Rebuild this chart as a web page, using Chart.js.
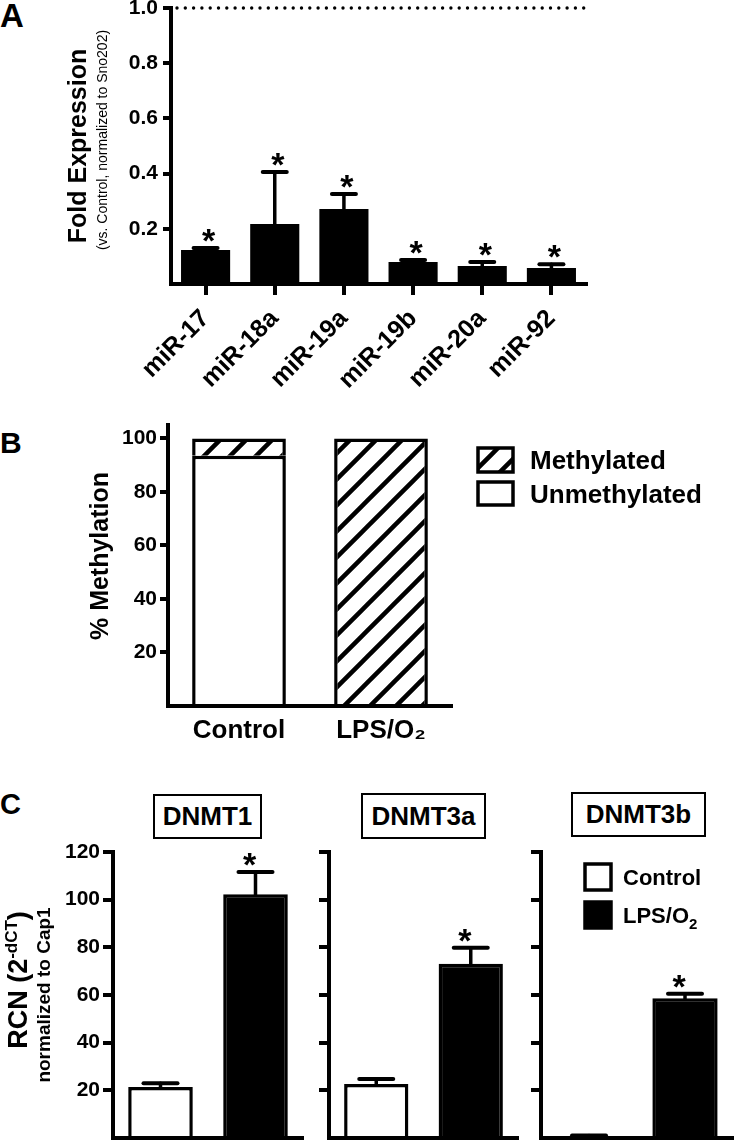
<!DOCTYPE html>
<html>
<head>
<meta charset="utf-8">
<script src="https://cdn.jsdelivr.net/npm/chart.js@4.4.1/dist/chart.umd.min.js"></script>
<style>
  body { margin: 0; background: #fff; width: 735px; height: 1141px; position: relative; overflow: hidden;
         font-family: Arial, "Liberation Sans", sans-serif; }
  canvas { position: absolute; }
  .panel { position: absolute; font-weight: bold; line-height: 1; }
  .gene { position: absolute; border: 2px solid #000; box-sizing: border-box; font-weight: bold;
          font-size: 26px; text-align: center; }
</style>
</head>
<body>
<div class="panel" style="left:0;top:-1px;font-size:33px">A</div>
<div class="panel" style="left:0;top:428px;font-size:30px">B</div>
<div class="panel" style="left:0;top:790px;font-size:29px">C</div>

<div class="gene" style="left:153px;top:794px;width:109px;height:45px;line-height:41px">DNMT1</div>
<div class="gene" style="left:361px;top:793px;width:125px;height:46px;line-height:42px">DNMT3a</div>
<div class="gene" style="left:571px;top:792px;width:135px;height:45px;line-height:41px">DNMT3b</div>

<canvas id="chartA" width="600" height="410" style="left:0;top:0"></canvas>
<canvas id="chartB" width="735" height="360" style="left:0;top:400px"></canvas>
<canvas id="chartC1" width="310" height="301" style="left:0;top:840px"></canvas>
<canvas id="chartC2" width="215" height="301" style="left:310px;top:840px"></canvas>
<canvas id="chartC3" width="210" height="301" style="left:525px;top:840px"></canvas>

<script>
// panel A - miRNA fold expression (mean + SEM)
const mirLabels = ['miR-17', 'miR-18a', 'miR-19a', 'miR-19b', 'miR-20a', 'miR-92'];
const mirMean = [0.123, 0.217, 0.272, 0.080, 0.065, 0.058];
const mirSem = [0.007, 0.189, 0.054, 0.007, 0.015, 0.014];
const controlLevel = 1.0;

// panel B - % methylation
const methGroups = ['Control', 'LPS/O\u2082'];
const methUnmethylated = [93.5, 0];
const methMethylated = [6.5, 100];

// panel C - DNMT expression
const dnmtGroups = ['Control', 'LPS/O\u2082'];
const dnmtControlMean = [21.4, 22.7, 0.8];
const dnmtControlSem = [1.6, 2.1, 0.3];
const dnmtLpsMean = [102.3, 73.1, 58.6];
const dnmtLpsSem = [9.3, 6.7, 1.9];

Chart.defaults.font.family = 'Arial, "Liberation Sans", sans-serif';
Chart.defaults.color = '#000';
Chart.defaults.animation = false;
Chart.defaults.plugins.legend.display = false;
Chart.defaults.plugins.tooltip.enabled = false;

const BOLD = 'Arial, "Liberation Sans", sans-serif';

function hatch() {
  const s = 26, c = document.createElement('canvas');
  c.width = c.height = s;
  const g = c.getContext('2d');
  g.fillStyle = '#fff';
  g.fillRect(0, 0, s, s);
  g.strokeStyle = '#000';
  g.lineWidth = 4.5;
  g.beginPath();
  g.moveTo(-3, s + 3); g.lineTo(s + 3, -3);
  g.moveTo(-3, 3); g.lineTo(3, -3);
  g.moveTo(s - 3, s + 3); g.lineTo(s + 3, s - 3);
  g.stroke();
  return g.createPattern(c, 'repeat');
}
const hatchFill = hatch();

// force scale box sizes so the plot areas line up with the figure
const fixBox = (w, h) => s => {
  if (w != null) s.width = w;
  if (h != null) s.height = h;
  s.paddingTop = 0; s.paddingBottom = 0; s.paddingLeft = 0; s.paddingRight = 0;
};

function valueAxis(max, step, width, tickLen, pad, showLabels, fmt) {
  return {
    min: 0, max: max,
    ticks: {
      stepSize: step, includeBounds: false, padding: pad, display: showLabels,
      font: { size: 21, weight: 'bold' },
      callback: v => v > 0 ? fmt(v) : ''
    },
    grid: {
      drawOnChartArea: false, tickLength: tickLen, lineWidth: 4,
      color: c => (c.tick && c.tick.value > 0) ? '#000' : 'rgba(0,0,0,0)'
    },
    border: { color: '#000', width: 4 },
    afterFit: fixBox(width, null)
  };
}

function drawParts(ctx, parts, x, y, rot, align) {
  ctx.save();
  ctx.translate(x, y);
  if (rot) ctx.rotate(rot);
  ctx.textBaseline = 'alphabetic';
  ctx.textAlign = 'left';
  let total = 0;
  parts.forEach(p => { ctx.font = p.font; p.w = ctx.measureText(p.t).width; total += p.w; });
  let cx = align === 'center' ? -total / 2 : 0;
  parts.forEach(p => {
    ctx.font = p.font;
    ctx.fillStyle = '#000';
    ctx.fillText(p.t, cx, p.dy || 0);
    cx += p.w;
  });
  ctx.restore();
}

const notes = {
  id: 'notes',
  afterDraw(chart, args, o) {
    (o.items || []).forEach(it => drawParts(chart.ctx, it.parts, it.x, it.y, it.rot, it.align));
  }
};

const errorBars = {
  id: 'errorBars',
  afterDatasetsDraw(chart, args, o) {
    if (!o.sem) return;
    const ctx = chart.ctx, y = chart.scales.y;
    const data = chart.data.datasets[0].data;
    chart.getDatasetMeta(0).data.forEach((bar, i) => {
      const top = y.getPixelForValue(data[i] + o.sem[i]);
      ctx.save();
      ctx.strokeStyle = '#000';
      ctx.lineCap = 'round';
      ctx.lineWidth = 3.5;
      ctx.beginPath();
      ctx.moveTo(bar.x, bar.y);
      ctx.lineTo(bar.x, top);
      ctx.stroke();
      ctx.lineWidth = 4;
      ctx.beginPath();
      ctx.moveTo(bar.x - o.cap / 2, top);
      ctx.lineTo(bar.x + o.cap / 2, top);
      ctx.stroke();
      if (o.stars[i]) {
        ctx.fillStyle = '#000';
        ctx.font = 'bold 34px ' + BOLD;
        ctx.textAlign = 'center';
        ctx.textBaseline = 'alphabetic';
        ctx.fillText('*', bar.x + o.starDx, top + 4);
      }
      ctx.restore();
    });
  }
};

const refLine = {
  id: 'refLine',
  afterDatasetsDraw(chart, args, o) {
    if (o.value == null) return;
    const ctx = chart.ctx, a = chart.chartArea;
    const yy = chart.scales.y.getPixelForValue(o.value);
    ctx.save();
    ctx.strokeStyle = '#000';
    ctx.lineWidth = 3.4;
    ctx.lineCap = 'round';
    ctx.setLineDash([0, 8.3]);
    ctx.beginPath();
    ctx.moveTo(a.left + 6, yy);
    ctx.lineTo(a.right + 4, yy);
    ctx.stroke();
    ctx.restore();
  }
};

const boxLegend = {
  id: 'boxLegend',
  afterDraw(chart, args, o) {
    if (!o.items) return;
    const ctx = chart.ctx;
    o.items.forEach(it => {
      ctx.save();
      ctx.fillStyle = it.fill;
      ctx.fillRect(it.x, it.y, it.w, it.h);
      ctx.strokeStyle = '#000';
      ctx.lineWidth = 3.5;
      ctx.strokeRect(it.x, it.y, it.w, it.h);
      ctx.restore();
      drawParts(ctx, it.parts, it.x + it.w + o.gap, it.y + it.h / 2 + o.base, 0, 'left');
    });
  }
};

Chart.register(notes, errorBars, refLine, boxLegend);

// ---------- A ----------
new Chart(document.getElementById('chartA'), {
  type: 'bar',
  data: {
    labels: mirLabels,
    datasets: [{ data: mirMean, backgroundColor: '#000', borderWidth: 0, barPercentage: 0.71, categoryPercentage: 1 }]
  },
  options: {
    responsive: false,
    layout: { padding: { left: 0, top: 8, right: 14, bottom: 0 } },
    scales: {
      x: {
        grid: { drawOnChartArea: false, offset: false, tickLength: 11, lineWidth: 4, color: '#000' },
        border: { color: '#000', width: 4 },
        ticks: { font: { size: 25, weight: 'bold' }, minRotation: 45, maxRotation: 45, autoSkip: false, padding: 9 },
        afterFit: fixBox(null, 126)
      },
      y: valueAxis(1.0, 0.2, 171, 8, 5, true, v => v.toFixed(1))
    },
    plugins: {
      errorBars: { sem: mirSem, stars: mirSem.map(() => true), cap: 24, starDx: 3 },
      refLine: { value: controlLevel },
      notes: {
        items: [
          { parts: [{ t: 'Fold Expression', font: 'bold 25px ' + BOLD }], x: 86, y: 146, rot: -Math.PI / 2, align: 'center' },
          { parts: [{ t: '(vs. Control, normalized to Sno202)', font: '14px ' + BOLD }], x: 107, y: 140, rot: -Math.PI / 2, align: 'center' }
        ]
      }
    }
  }
});

// ---------- B ----------
new Chart(document.getElementById('chartB'), {
  type: 'bar',
  data: {
    labels: methGroups,
    datasets: [
      { label: 'Unmethylated', data: methUnmethylated, backgroundColor: '#fff', borderColor: '#000', borderWidth: 3.5,
        borderSkipped: 'start', barPercentage: 0.66, categoryPercentage: 1 },
      { label: 'Methylated', data: methMethylated, backgroundColor: hatchFill, borderColor: '#000', borderWidth: 3.5,
        borderSkipped: 'start', barPercentage: 0.66, categoryPercentage: 1 }
    ]
  },
  options: {
    responsive: false,
    layout: { padding: { left: 0, top: 25, right: 283, bottom: 0 } },
    scales: {
      x: {
        stacked: true,
        grid: { display: false },
        border: { color: '#000', width: 4 },
        ticks: { font: { size: 26, weight: 'bold' }, padding: 1, maxRotation: 0 },
        afterFit: fixBox(null, 54)
      },
      y: Object.assign(valueAxis(105, 20, 168, 8, 3, true, v => v), { stacked: true })
    },
    plugins: {
      notes: {
        items: [
          { parts: [{ t: '% Methylation', font: 'bold 25px ' + BOLD }], x: 108, y: 156, rot: -Math.PI / 2, align: 'center' }
        ]
      },
      boxLegend: {
        gap: 17, base: 9,
        items: [
          { fill: hatchFill, x: 478, y: 48, w: 35, h: 24, parts: [{ t: 'Methylated', font: 'bold 26px ' + BOLD }] },
          { fill: '#fff', x: 478, y: 82, w: 35, h: 23, parts: [{ t: 'Unmethylated', font: 'bold 26px ' + BOLD }] }
        ]
      }
    }
  }
});

// ---------- C ----------
const cBoxes = [
  { id: 'chartC1', yWidth: 113, right: 7, labels: true },
  { id: 'chartC2', yWidth: 19, right: 7, labels: false },
  { id: 'chartC3', yWidth: 16, right: 2, labels: false }
];

cBoxes.forEach((b, i) => {
  const plugins = {
    errorBars: { sem: [dnmtControlSem[i], dnmtLpsSem[i]], stars: [false, true], cap: 34, starDx: -6 }
  };
  if (i === 0) {
    plugins.notes = {
      items: [
        { parts: [{ t: 'RCN (2', font: 'bold 27px ' + BOLD }, { t: '-dCT', font: 'bold 17px ' + BOLD, dy: -10 },
                  { t: ')', font: 'bold 27px ' + BOLD }], x: 27, y: 140, rot: -Math.PI / 2, align: 'center' },
        { parts: [{ t: 'normalized to Cap1', font: 'bold 19px ' + BOLD }], x: 50, y: 155, rot: -Math.PI / 2, align: 'center' }
      ]
    };
  }
  if (i === 2) {
    plugins.boxLegend = {
      gap: 12, base: 8,
      items: [
        { fill: '#fff', x: 60, y: 24, w: 26, h: 26, parts: [{ t: 'Control', font: 'bold 22px ' + BOLD }] },
        { fill: '#000', x: 60, y: 62, w: 26, h: 26,
          parts: [{ t: 'LPS/O', font: 'bold 22px ' + BOLD }, { t: '2', font: 'bold 15px ' + BOLD, dy: 6 }] }
      ]
    };
  }
  new Chart(document.getElementById(b.id), {
    type: 'bar',
    data: {
      labels: dnmtGroups,
      datasets: [{
        data: [dnmtControlMean[i], dnmtLpsMean[i]],
        backgroundColor: ['#fff', '#000'], borderColor: '#000', borderWidth: 3.5,
        barPercentage: 0.68, categoryPercentage: 1
      }]
    },
    options: {
      responsive: false,
      layout: { padding: { left: 0, top: 12, right: b.right, bottom: 0 } },
      scales: {
        x: {
          grid: { display: false },
          border: { color: '#000', width: 4 },
          ticks: { display: false },
          afterFit: fixBox(null, 3)
        },
        y: valueAxis(120, 20, b.yWidth, 10, 3, b.labels, v => v)
      },
      plugins: plugins
    }
  });
});
</script>
</body>
</html>
